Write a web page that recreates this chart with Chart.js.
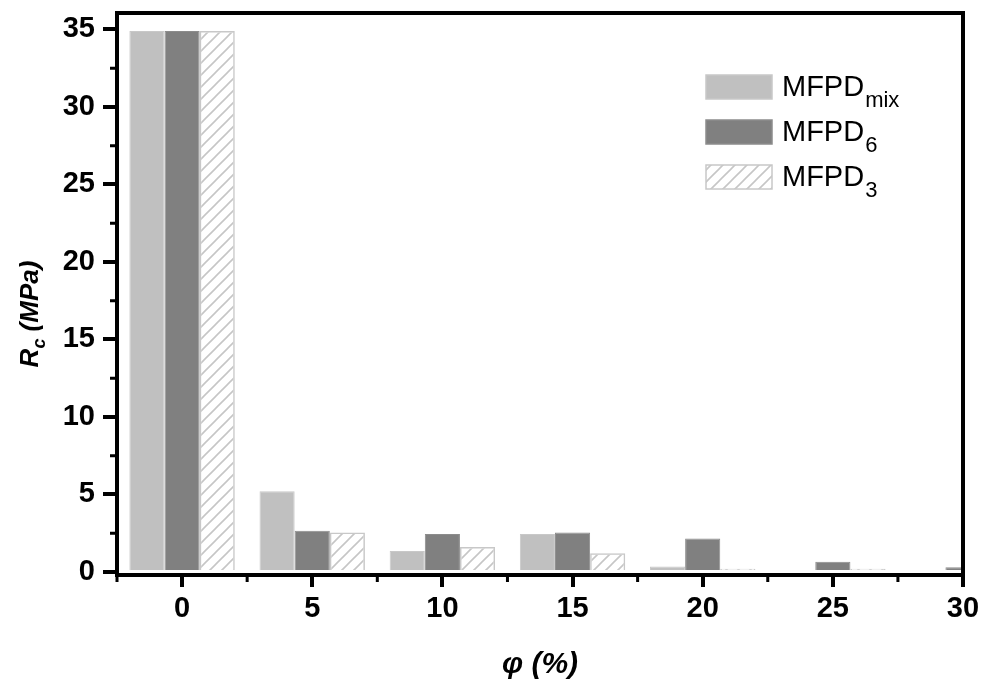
<!DOCTYPE html>
<html lang="en">
<head>
    <meta charset="UTF-8">
    <title>Rc vs phi</title>
    <script src="https://cdn.jsdelivr.net/npm/chart.js"></script>
    <style>
        html, body { margin: 0; padding: 0; background: #fff; }
        #wrap { width: 987px; height: 683px; }
    </style>
</head>
<body>
    <div id="wrap"><canvas id="grafico" width="987" height="683"></canvas></div>
    <script>
        // Datos
        const phi = [0, 5, 10, 15, 20, 25, 30];
        const mfpdMix = [34.9, 5.2, 1.35, 2.45, 0.35, 0.12, 0.12];
        const mfpd6 = [34.9, 2.65, 2.45, 2.55, 2.15, 0.65, 0.3];
        const mfpd3 = [34.9, 2.55, 1.6, 1.2, 0.2, 0.2, 0.1];
        const xTicks = [0, 5, 10, 15, 20, 25, 30];
        const yTicks = [0, 5, 10, 15, 20, 25, 30, 35];

        const FONT = '"Liberation Sans", Arial, sans-serif';

        // Patron rayado para MFPD3
        function crearRayado() {
            const c = document.createElement('canvas');
            c.width = 12; c.height = 12;
            const g = c.getContext('2d');
            g.strokeStyle = '#c6c6c6';
            g.lineWidth = 1.6;
            g.beginPath();
            g.moveTo(-3, 15); g.lineTo(15, -3);
            g.moveTo(-3, 3); g.lineTo(3, -3);
            g.moveTo(9, 15); g.lineTo(15, 9);
            g.stroke();
            return g.createPattern(c, 'repeat');
        }
        const rayado = crearRayado();

        const puntos = arr => phi.map((x, i) => ({ x: x, y: arr[i] }));

        // Marco, ticks menores, titulos y leyenda
        const extras = {
            id: 'extras',
            afterDraw(chart) {
                const ctx = chart.ctx;
                const a = chart.chartArea;
                const sx = chart.scales.x, sy = chart.scales.y;
                ctx.save();
                ctx.strokeStyle = '#000';
                ctx.lineWidth = 4;
                ctx.strokeRect(a.left, a.top, a.right - a.left, a.bottom - a.top);

                // ticks menores
                ctx.lineWidth = 3;
                ctx.beginPath();
                for (let v = 2.5; v < 35; v += 5) {
                    const y = sy.getPixelForValue(v);
                    ctx.moveTo(a.left, y); ctx.lineTo(a.left - 7, y);
                }
                for (let v = -2.5; v < 30; v += 5) {
                    const x = sx.getPixelForValue(v);
                    ctx.moveTo(x, a.bottom); ctx.lineTo(x, a.bottom + 7);
                }
                ctx.stroke();

                // titulo eje y
                ctx.fillStyle = '#000';
                ctx.textBaseline = 'alphabetic';
                ctx.translate(38, 314);
                ctx.rotate(-Math.PI / 2);
                const f1 = 'italic bold 26px ' + FONT;
                const f2 = 'italic bold 18px ' + FONT;
                const partes = [['R', f1, 0], ['c', f2, 7], [' (MPa)', f1, 0]];
                let total = 0;
                partes.forEach(p => { ctx.font = p[1]; total += ctx.measureText(p[0]).width; });
                let px = -total / 2;
                partes.forEach(p => {
                    ctx.font = p[1];
                    ctx.fillText(p[0], px, p[2]);
                    px += ctx.measureText(p[0]).width;
                });
                ctx.setTransform(1, 0, 0, 1, 0, 0);

                // titulo eje x
                ctx.font = 'italic bold 30px ' + FONT;
                ctx.textAlign = 'center';
                ctx.fillText('\u03C6 (%)', (a.left + a.right) / 2, 673);
                ctx.textAlign = 'left';

                // leyenda
                const items = [
                    { sub: 'mix', fill: '#c0c0c0', stroke: '#c8c8c8' },
                    { sub: '6', fill: '#808080', stroke: '#8c8c8c' },
                    { sub: '3', fill: rayado, stroke: '#c8c8c8' }
                ];
                const bx = a.right - 257;
                items.forEach((it, i) => {
                    const by = 75 + i * 45;
                    ctx.fillStyle = it.fill;
                    ctx.fillRect(bx, by, 66, 24);
                    ctx.strokeStyle = it.stroke;
                    ctx.lineWidth = 1.5;
                    ctx.strokeRect(bx, by, 66, 24);
                    ctx.fillStyle = '#000';
                    ctx.font = '29px ' + FONT;
                    ctx.fillText('MFPD', bx + 76, by + 21);
                    const w = ctx.measureText('MFPD').width;
                    ctx.font = '22px ' + FONT;
                    ctx.fillText(it.sub, bx + 77 + w, by + 32);
                });
                ctx.restore();
            }
        };

        new Chart(document.getElementById('grafico'), {
            type: 'bar',
            data: {
                datasets: [{
                    label: 'MFPDmix',
                    data: puntos(mfpdMix),
                    backgroundColor: '#c0c0c0',
                    borderColor: '#c8c8c8',
                    borderWidth: 1
                }, {
                    label: 'MFPD6',
                    data: puntos(mfpd6),
                    backgroundColor: '#808080',
                    borderColor: '#8c8c8c',
                    borderWidth: 1
                }, {
                    label: 'MFPD3',
                    data: puntos(mfpd3),
                    backgroundColor: rayado,
                    borderColor: '#c8c8c8',
                    borderWidth: 1.5
                }]
            },
            options: {
                responsive: false,
                animation: false,
                categoryPercentage: 0.81,
                barPercentage: 1,
                layout: { padding: { left: 0, top: 13, right: 24, bottom: 0 } },
                plugins: { legend: { display: false }, tooltip: { enabled: false } },
                scales: {
                    x: {
                        type: 'linear',
                        min: -2.5,
                        max: 30,
                        offset: false,
                        afterBuildTicks: s => { s.ticks = xTicks.map(v => ({ value: v })); },
                        afterFit: s => { s.height = 108; s.paddingLeft = 0; s.paddingRight = 0; },
                        border: { display: false },
                        grid: { offset: false, drawOnChartArea: false, tickLength: 12, lineWidth: 4, tickColor: '#000' },
                        ticks: { color: '#000', padding: 5, font: { family: FONT, size: 29, weight: 'bold' } }
                    },
                    y: {
                        min: -0.2,
                        max: 36.06,
                        afterBuildTicks: s => { s.ticks = yTicks.map(v => ({ value: v })); },
                        afterFit: s => { s.width = 117; s.paddingTop = 0; s.paddingBottom = 0; },
                        border: { display: false },
                        grid: { drawOnChartArea: false, tickLength: 14, lineWidth: 4, tickColor: '#000' },
                        ticks: { color: '#000', padding: 8, font: { family: FONT, size: 29, weight: 'bold' } }
                    }
                }
            },
            plugins: [extras]
        });
    </script>
</body>
</html>
